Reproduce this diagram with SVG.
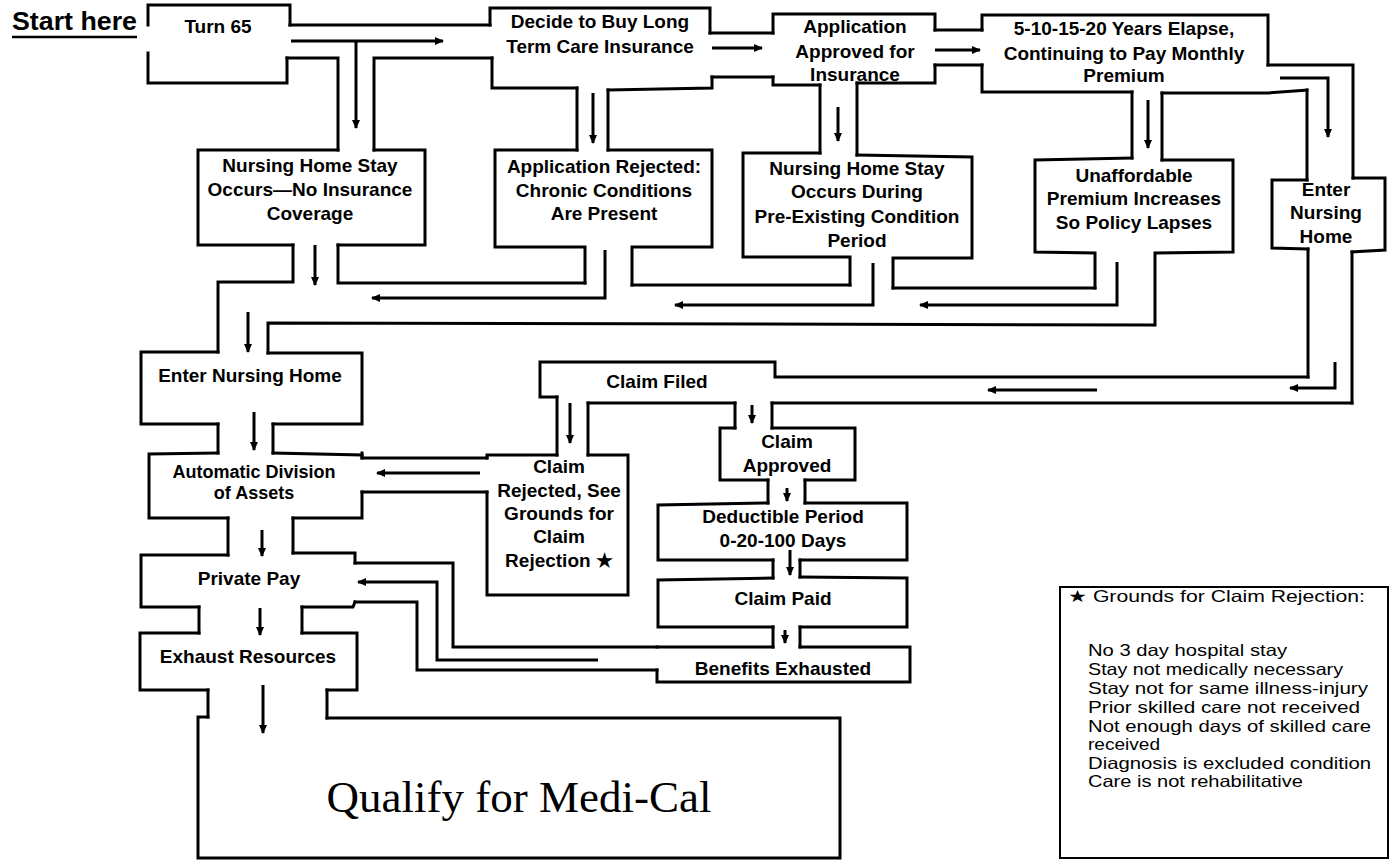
<svg xmlns="http://www.w3.org/2000/svg" width="1390" height="861" viewBox="0 0 1390 861">
<defs>
<marker id="ah" markerUnits="userSpaceOnUse" markerWidth="10" markerHeight="10" refX="8" refY="5" orient="auto"><path d="M0,1 L9,5 L0,9 Z" fill="#000"/></marker>
</defs>
<style>
.w{fill:none;stroke:#000;stroke-width:3;stroke-linejoin:miter;stroke-linecap:square}
.a{fill:none;stroke:#000;stroke-width:3;marker-end:url(#ah)}
.t{font-family:"Liberation Sans",Arial,sans-serif;font-weight:bold;font-size:19px;text-anchor:middle;fill:#000}
.lg{font-family:"Liberation Sans","DejaVu Sans",Arial,sans-serif;font-size:16.5px;fill:#000}
</style>
<rect width="1390" height="861" fill="#fff"/>

<g id="start-label">
<text x="12" y="30" font-family="Liberation Sans, Arial, sans-serif" font-weight="bold" font-size="26" textLength="125" lengthAdjust="spacingAndGlyphs">Start here</text>
<line x1="12" y1="37" x2="137" y2="37" stroke="#000" stroke-width="2.5"/>
</g>

<g id="turn65"><path class="w" d="M148,25 V5 H290 V25 M148,53 V83 H287 V58"/><text class="t" x="218" y="33">Turn 65</text></g>

<g id="nursing-home-stay-no-insurance"><path class="w" d="M338,150 H198 V245 H293 M374,150 H425 V245 H338"/>
<text class="t" x="310" y="172">Nursing Home Stay</text><text class="t" x="310" y="196">Occurs—No Insurance</text><text class="t" x="310" y="220">Coverage</text></g>

<g id="decide-to-buy"><path class="w" d="M490,25 V8 H710 V33 M492,58 V88 H577 M608,90 L712,88 V77"/>
<text class="t" x="600" y="28">Decide to Buy Long</text><text class="t" x="600" y="53">Term Care Insurance</text></g>

<g id="application-rejected"><path class="w" d="M577,150 H495 V247 H585 V283 M608,150 H712 V247 H632 V285"/>
<text class="t" x="604" y="173">Application Rejected:</text><text class="t" x="604" y="197">Chronic Conditions</text><text class="t" x="604" y="220">Are Present</text></g>

<g id="application-approved"><path class="w" d="M773,33 V14 H935 V30 M773,77 V85 H820 M857,83 H935 V65"/>
<text class="t" x="855" y="33">Application</text><text class="t" x="855" y="58">Approved for</text><text class="t" x="855" y="81">Insurance</text></g>

<g id="nursing-home-stay-preexisting"><path class="w" d="M820,153 H743 V257 H850 V285 M857,155 L972,157 V258 H893 V288"/>
<text class="t" x="857" y="175">Nursing Home Stay</text><text class="t" x="857" y="198">Occurs During</text><text class="t" x="857" y="223">Pre-Existing Condition</text><text class="t" x="857" y="247">Period</text></g>

<g id="years-elapse"><path class="w" d="M982,30 V15 H1268 V65 M982,65 V92 H1132 M1162,93 H1268 L1307,90"/>
<text class="t" x="1124" y="35">5-10-15-20 Years Elapse,</text><text class="t" x="1124" y="60">Continuing to Pay Monthly</text><text class="t" x="1124" y="82">Premium</text></g>

<g id="unaffordable-premium"><path class="w" d="M1132,158 L1035,160 V252 L1095,253 V288 M1162,160 H1233 V252 L1155,253 V325"/>
<text class="t" x="1134" y="182">Unaffordable</text><text class="t" x="1134" y="205">Premium Increases</text><text class="t" x="1134" y="229">So Policy Lapses</text></g>

<g id="enter-nursing-home-right"><path class="w" d="M1307,180 H1272 V248 L1308,249 M1353,178 H1385 V250 L1352,252"/>
<text class="t" x="1326" y="196">Enter</text><text class="t" x="1326" y="219">Nursing</text><text class="t" x="1326" y="243">Home</text></g>

<g id="claim-filed"><path class="w" d="M1308,377 H775 V362 H540 V397 H557 M1352,403 H772 M735,403 H588"/>
<text class="t" x="657" y="388">Claim Filed</text></g>

<g id="claim-rejected"><path class="w" d="M557,455 H487 V458 M487,492 V595 H628 V455 H588"/>
<text class="t" x="559" y="473">Claim</text><text class="t" x="559" y="497">Rejected, See</text><text class="t" x="559" y="520">Grounds for</text><text class="t" x="559" y="543">Claim</text><text class="t" x="559" y="567">Rejection ★</text></g>

<g id="enter-nursing-home-left"><path class="w" d="M218,352 H141 V424 H218 M268,353 H362 V424 H273"/>
<text class="t" x="250" y="382">Enter Nursing Home</text></g>

<g id="automatic-division"><path class="w" d="M218,453 L149,454 V518 H228 M273,453 L362,455 V458 M362,492 V518 H293"/>
<text class="t" x="254" y="478" style="font-size:18px">Automatic Division</text><text class="t" x="254" y="499" style="font-size:18px">of Assets</text></g>

<g id="private-pay"><path class="w" d="M228,555 H141 V607 H199 M293,553 H355 V563 M355,602 L353,607 H302"/>
<text class="t" x="249" y="585">Private Pay</text></g>

<g id="exhaust-resources"><path class="w" d="M199,633 H140 V690 H208 M302,633 H357 V690 H327"/>
<text class="t" x="248" y="663">Exhaust Resources</text></g>

<g id="qualify-medi-cal"><path class="w" d="M208,717 H198 V858 H840 V718 H327"/>
<text x="519" y="812" font-family="Liberation Serif, Times New Roman, serif" font-size="45" text-anchor="middle">Qualify for Medi-Cal</text></g>

<g id="claim-approved"><path class="w" d="M735,428 H720 V480 H768 M772,428 H855 V480 H805"/>
<text class="t" x="787" y="448">Claim</text><text class="t" x="787" y="472">Approved</text></g>

<g id="deductible-period"><path class="w" d="M768,503 L658,505 V560 H773 M805,503 H907 V560 H800"/>
<text class="t" x="783" y="523">Deductible Period</text><text class="t" x="783" y="547">0-20-100 Days</text></g>

<g id="claim-paid"><path class="w" d="M773,578 L658,580 V627 H773 M800,577 L907,578 V627 H800"/>
<text class="t" x="783" y="605">Claim Paid</text></g>

<g id="benefits-exhausted"><path class="w" d="M773,647 H657 M800,647 H910 V682 H657 V670"/>
<text class="t" x="783" y="675">Benefits Exhausted</text></g>

<g id="legend">
<rect x="1060" y="587" width="328" height="271" fill="none" stroke="#000" stroke-width="2"/>
<text class="lg" x="1068" y="602" textLength="297" lengthAdjust="spacingAndGlyphs">★ Grounds for Claim Rejection:</text>
<text class="lg" x="1088" y="656" textLength="199" lengthAdjust="spacingAndGlyphs">No 3 day hospital stay</text>
<text class="lg" x="1088" y="675" textLength="255" lengthAdjust="spacingAndGlyphs">Stay not medically necessary</text>
<text class="lg" x="1088" y="694" textLength="280" lengthAdjust="spacingAndGlyphs">Stay not for same illness-injury</text>
<text class="lg" x="1088" y="713" textLength="272" lengthAdjust="spacingAndGlyphs">Prior skilled care not  received</text>
<text class="lg" x="1088" y="732" textLength="283" lengthAdjust="spacingAndGlyphs">Not enough days of skilled care</text>
<text class="lg" x="1088" y="750" textLength="72" lengthAdjust="spacingAndGlyphs">received</text>
<text class="lg" x="1088" y="769" textLength="283" lengthAdjust="spacingAndGlyphs">Diagnosis is excluded condition</text>
<text class="lg" x="1088" y="787" textLength="215" lengthAdjust="spacingAndGlyphs">Care is not rehabilitative</text>
</g>

<g id="connectors">
<path class="w" d="M290,25 H490 M287,58 H338 V150 M374,150 V58 H492 M293,245 V282 H218 V352 M338,245 V283 H585 M268,353 V323 L1153,325 M577,88 V150 M608,90 V150 M710,33 H773 M712,77 H773 M820,85 V153 M857,83 V155 M935,30 H982 M935,65 H982 M632,285 H850 M893,288 H1095 M1132,92 V158 M1162,93 V160 M1268,65 H1353 V178 M1307,90 V180 M1308,249 V377 M1352,252 V403 M557,397 V455 M588,403 V455 M772,403 V428 M735,403 V428 M487,458 H362 V453 M487,492 H362 M218,424 V453 M273,424 V453 M228,518 V555 M293,518 V553 M355,563 H453 V647 H657 M355,602 H417 V670 H657 M199,607 V633 M302,607 V633 M208,690 V717 M327,690 V718 M768,480 V503 M805,480 V503 M773,560 V578 M800,560 V577 M773,627 V647 M800,627 V647"/>
<path class="a" d="M291,41 H443"/>
<path class="a" d="M356,41 V128"/>
<path class="a" d="M712,48 H762"/>
<path class="a" d="M593,93 V143"/>
<path class="a" d="M935,50 H980"/>
<path class="a" d="M838,107 V141"/>
<path class="a" d="M1148,100 V148"/>
<path class="a" d="M1280,78 H1328 V137"/>
<path class="a" d="M315,245 V285"/>
<path class="a" d="M605,250 V298 H372"/>
<path class="a" d="M873,263 V305 H675"/>
<path class="a" d="M1117,262 V305 H920"/>
<path class="a" d="M248,312 V352"/>
<path class="a" d="M254,412 V450"/>
<path class="a" d="M262,530 V556"/>
<path class="a" d="M260,608 V635"/>
<path class="a" d="M263,685 V733"/>
<path class="a" d="M1335,362 V388 H1290"/>
<path class="a" d="M1097,390 H988"/>
<path class="a" d="M570,403 V443"/>
<path class="a" d="M752,405 V423"/>
<path class="a" d="M480,473 H377"/>
<path class="a" d="M787,488 V501"/>
<path class="a" d="M790,550 V575"/>
<path class="a" d="M785,630 V643"/>
<path class="a" d="M598,660 H437 V582 H358"/>
</g>
</svg>
